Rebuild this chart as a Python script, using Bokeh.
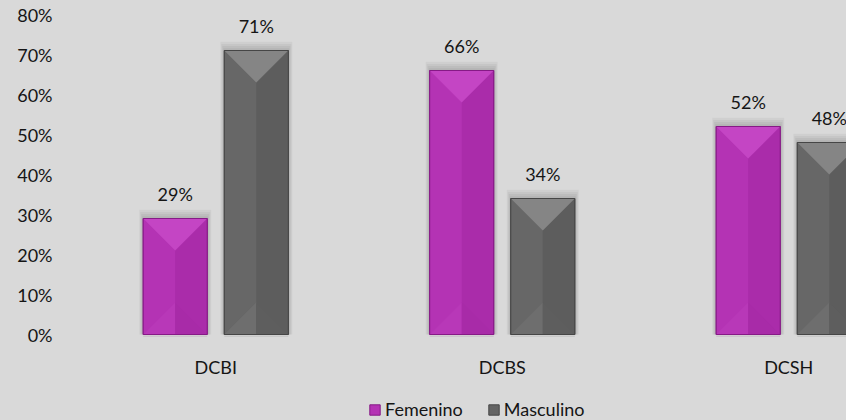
from bokeh.plotting import figure
from bokeh.models import (Range1d, FixedTicker, Legend, LegendItem, ColumnDataSource,
                          PrintfTickFormatter, GlobalInlineStyleSheet)
from bokeh.core.properties import value
from bokeh.embed import file_html
from bokeh.resources import INLINE

# ---- data ----
categories = ["DCBI", "DCBS", "DCSH"]
femenino = [29, 66, 52]
masculino = [71, 34, 48]
y_ticks = [0, 10, 20, 30, 40, 50, 60, 70, 80]
series_names = ["Femenino", "Masculino"]

# ---- layout ----
FONT = "Lato"
BG = "#d9d9d9"
TXT = "#151515"
W, H = 846, 420
BORDER_L, BORDER_T = 72, 14
PLOT_PX = 320                      # pixels spanned by 0%..80%
BELOW_PX = H - BORDER_T - PLOT_PX  # space under the 0% line (labels + legend)
CAT_PX = 286.5
X_END = (W - BORDER_L) / CAT_PX
PX_X = 1.0 / CAT_PX
PX_Y = (y_ticks[-1] - y_ticks[0]) / PLOT_PX

BAR_W = 64 * PX_X
OFF = 0.1415
BEVEL = 32 * PX_Y

styles = {
    "Femenino": dict(base="#b433b4", L="#b433b4", R="#aa2caa", T="#c445c4",
                     BL="#b838b8", BR="#a82ba8", line="#861a86", refl="#ccc4cc"),
    "Masculino": dict(base="#646464", L="#676767", R="#5d5d5d", T="#858585",
                      BL="#6e6e6e", BR="#5e5e5e", line="#464646", refl="#c8c8c8"),
}

p = figure(width=W, height=H, output_backend="svg", toolbar_location=None,
           x_range=Range1d(0, X_END),
           y_range=Range1d(y_ticks[0] - BELOW_PX * PX_Y, y_ticks[-1]),
           min_border_left=BORDER_L, min_border_right=0, min_border_top=BORDER_T,
           min_border_bottom=0)
p.background_fill_color = BG
p.border_fill_color = BG
p.outline_line_color = None
p.grid.grid_line_color = None
p.xaxis.visible = False
p.stylesheets.append(GlobalInlineStyleSheet(css=f"html, body {{ background: {BG}; }}"))

legend_items = []
for name, vals, sign in (("Femenino", femenino, -1), ("Masculino", masculino, 1)):
    st = styles[name]
    xs = [i + 0.5 + sign * OFF for i in range(len(categories))]
    # soft shadow
    for e in (2, 4, 6, 8):
        p.quad(left=[x - BAR_W / 2 - e * 0.5 * PX_X for x in xs],
               right=[x + BAR_W / 2 + e * 0.5 * PX_X for x in xs],
               top=[v + e * 1.1 * PX_Y for v in vals], bottom=[0] * len(vals),
               fill_color="black", fill_alpha=0.045, line_color=None)
    # faint reflection line under each bar
    p.quad(left=[x - BAR_W / 2 for x in xs], right=[x + BAR_W / 2 for x in xs],
           top=[-1 * PX_Y] * len(xs), bottom=[-2.5 * PX_Y] * len(xs),
           fill_color=st["refl"], line_color=None)
    src = ColumnDataSource(dict(x=xs, top=vals))
    r = p.vbar(x="x", top="top", width=BAR_W, source=src, fill_color=st["base"],
               line_color=st["line"], line_width=1)
    legend_items.append(LegendItem(label=name, renderers=[r]))
    # bevel faces
    faces = {"L": ([], []), "R": ([], []), "T": ([], []), "BL": ([], []), "BR": ([], [])}
    for x, v in zip(xs, vals):
        l, rr, cx = x - BAR_W / 2, x + BAR_W / 2, x
        h = min(BEVEL, v / 2)
        faces["L"][0].append([l, cx, cx, l]); faces["L"][1].append([0, 0, v, v])
        faces["R"][0].append([cx, rr, rr, cx]); faces["R"][1].append([0, 0, v, v])
        faces["T"][0].append([l, rr, cx]); faces["T"][1].append([v, v, v - h])
        faces["BL"][0].append([l, cx, cx]); faces["BL"][1].append([0, h, 0])
        faces["BR"][0].append([cx, cx, rr]); faces["BR"][1].append([0, h, 0])
    for key in ("L", "R", "T", "BL", "BR"):
        p.patches(xs=faces[key][0], ys=faces[key][1], fill_color=st[key], line_color=None)
    p.vbar(x="x", top="top", width=BAR_W, source=src, fill_alpha=0,
           line_color=st["line"], line_width=1)
    # value labels
    p.text(x=xs, y=vals, text=[f"{v}%" for v in vals], text_align="center",
           text_baseline="middle", y_offset=-25, text_font=value(FONT),
           text_font_size="18px", text_color=TXT)

# category labels (drawn under the 0% line)
p.text(x=[i + 0.5 for i in range(len(categories))], y=[y_ticks[0]] * len(categories),
       text=categories, text_align="center", text_baseline="middle", y_offset=32,
       text_font=value(FONT), text_font_size="18px", text_color=TXT)

# y axis
p.yaxis.ticker = FixedTicker(ticks=y_ticks)
p.yaxis.formatter = PrintfTickFormatter(format="%d%%")
ax = p.yaxis[0]
ax.axis_line_color = None
ax.major_tick_line_color = None
ax.minor_tick_line_color = None
ax.major_label_text_font = FONT
ax.major_label_text_font_size = "18px"
ax.major_label_text_color = TXT
ax.major_label_standoff = 14

legend = Legend(items=legend_items, orientation="horizontal", location=(296, 0),
                glyph_width=13, glyph_height=13, label_standoff=4, spacing=24,
                padding=0, margin=0, border_line_color=None, background_fill_alpha=0,
                label_text_font=FONT, label_text_font_size="18px",
                label_text_color=TXT)
p.add_layout(legend, "center")

open("out.html", "w").write(file_html(p, INLINE))
